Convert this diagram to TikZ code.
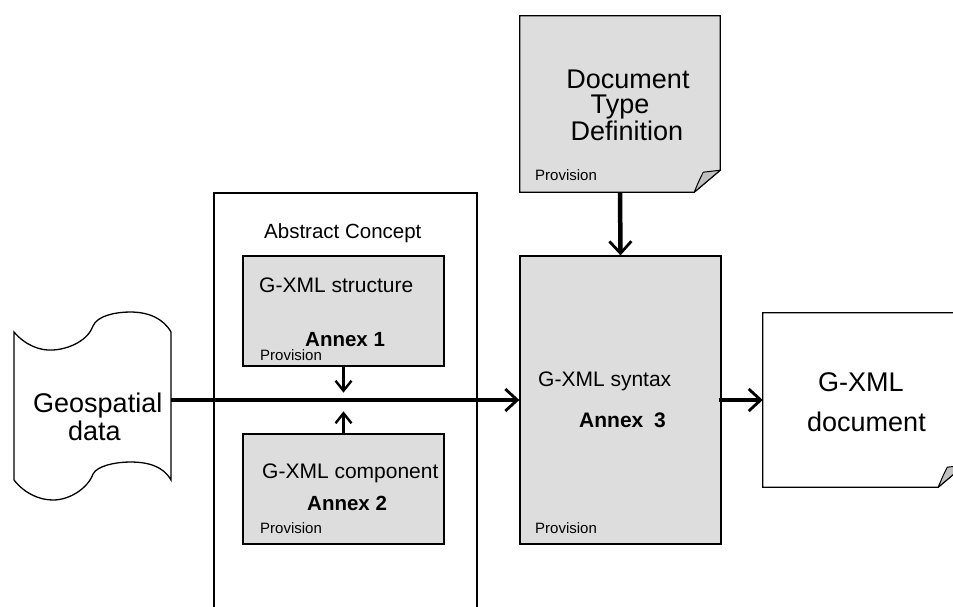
\documentclass[tikz,border=0pt]{standalone}
\usepackage{fontspec}
\setmainfont{Liberation Sans}
\usetikzlibrary{arrows.meta,calc}
\definecolor{boxgray}{HTML}{DDDDDD}
\definecolor{foldgray}{HTML}{C0C0C0}
\begin{document}
\begin{tikzpicture}[x=1pt,y=-1pt,
  shapebox/.style={draw=black, line width=1.3pt, inner sep=0pt},
  graybox/.style={shapebox, fill=boxgray},
  txt/.style={inner sep=0pt, anchor=base west},
  ctxt/.style={inner sep=0pt, anchor=base},
  bigfont/.style={font=\fontsize{27}{30}\selectfont},
  midfont/.style={font=\fontsize{21}{24}\selectfont},
  boldfont/.style={font=\fontsize{20.5}{24}\selectfont\bfseries},
  smallfont/.style={font=\fontsize{15}{18}\selectfont},
  mainarrow/.style={line width=4.5pt, -{Straight Barb[length=12pt,width=22pt,line width=2.8pt]}},
  smallarrow/.style={line width=2.4pt, -{Straight Barb[length=10pt,width=16pt,line width=2.4pt]}}
]
\useasboundingbox (0,0) rectangle (953,606);
\fill[white] (0,0) rectangle (953,606);

% Abstract concept frame
\node[shapebox, line width=1.6pt, minimum width=263pt, minimum height=447pt] (abs) at (345.5,416.5) {};
\node[txt, font=\fontsize{20.5}{24}\selectfont] (abstxt) at (264,238) {Abstract Concept};

% Annex 1
\node[graybox, minimum width=201pt, minimum height=110pt] (a1) at (343.5,311) {};
\node[txt, midfont] (a1t) at (259,292) {G-XML structure};
\node[txt, boldfont] (a1b) at (305,346.5) {Annex 1};
\node[txt, smallfont] (a1p) at (260,360) {Provision};

% Annex 2
\node[graybox, minimum width=201pt, minimum height=110pt] (a2) at (343.5,489) {};
\node[txt, midfont] (a2t) at (262,478) {G-XML component};
\node[txt, boldfont] (a2b) at (307,510) {Annex 2};
\node[txt, smallfont] (a2p) at (260,533) {Provision};

% Syntax box (Annex 3)
\node[graybox, minimum width=201pt, minimum height=288pt] (syn) at (620.5,400) {};
\node[txt, midfont] (synt) at (538,386) {G-XML syntax};
\node[txt, font=\fontsize{21}{24}\selectfont\bfseries] (synb) at (579,427) {Annex\hspace{5pt} 3};
\node[txt, smallfont] (synp) at (535,533) {Provision};

% DTD (document with folded corner)
\node[inner sep=0pt, minimum width=200pt, minimum height=176pt] (dtd) at (620,104) {};
\filldraw[fill=boxgray, draw=black, line width=1.3pt, line join=miter]
  (dtd.north west) -- (dtd.north east) -- ($(dtd.south east)+(0,-22)$)
  -- ($(dtd.south east)+(-26,0)$) -- (dtd.south west) -- cycle;
\filldraw[fill=foldgray, draw=black, line width=1pt, line join=round]
  ($(dtd.south east)+(-26,0)$) -- ($(dtd.south east)+(0,-22)$)
  -- ($(dtd.south east)+(-17,-20)$) .. controls ($(dtd.south east)+(-21,-12)$) .. cycle;
\node[ctxt, font=\fontsize{27}{28}\selectfont] (dtd1) at (628,88) {Document};
\node[ctxt, font=\fontsize{27}{28}\selectfont] (dtd2) at (620,113) {Type};
\node[ctxt, font=\fontsize{27}{28}\selectfont] (dtd3) at (627,140) {Definition};
\node[txt, smallfont] (dtdp) at (535,180) {Provision};

% G-XML document (folded corner, runs off the right edge)
\node[inner sep=0pt, minimum width=201pt, minimum height=174pt] (doc) at (863.5,400) {};
\filldraw[fill=white, draw=black, line width=1.3pt, line join=miter]
  (doc.north west) -- (doc.north east) -- ($(doc.south east)+(0,-22)$)
  -- ($(doc.south east)+(-26,0)$) -- (doc.south west) -- cycle;
\filldraw[fill=foldgray, draw=black, line width=1pt, line join=round]
  ($(doc.south east)+(-26,0)$) -- ($(doc.south east)+(0,-22)$)
  -- ($(doc.south east)+(-17,-20)$) .. controls ($(doc.south east)+(-21,-12)$) .. cycle;
\node[txt, bigfont] (doc1) at (818,391) {G-XML};
\node[txt, bigfont] (doc2) at (807,431) {document};

% Geospatial data (punched tape)
\node[inner sep=0pt, minimum width=157pt, minimum height=148pt] (geo) at (92.5,406) {};
\draw[line width=1.3pt, fill=white]
  (14,332) .. controls (25,345) and (40,351) .. (53,350)
  .. controls (70,349) and (88,340) .. (93,326)
  .. controls (97,316) and (115,312) .. (130,312)
  .. controls (148,312) and (163,318) .. (171,332)
  -- (171,480)
  .. controls (163,466) and (148,462) .. (130,462)
  .. controls (115,462) and (97,466) .. (93,474)
  .. controls (88,488) and (70,500) .. (53,500)
  .. controls (40,500) and (25,494) .. (14,480) -- cycle;
\node[txt, bigfont] (geo1) at (33,412) {Geospatial};
\node[txt, bigfont] (geo2) at (68,440) {data};

% connectors
\draw[mainarrow] (geo.east |- syn.west) -- (syn.west);
\draw[smallarrow] (a1.south) -- ++(0,26);
\draw[smallarrow] (a2.north) -- ++(0,-22);
\draw[mainarrow] (dtd.south) -- (syn.north);
\draw[mainarrow] ($(syn.east)+(-3,0)$) -- (doc.west |- syn.east);
\end{tikzpicture}
\end{document}
